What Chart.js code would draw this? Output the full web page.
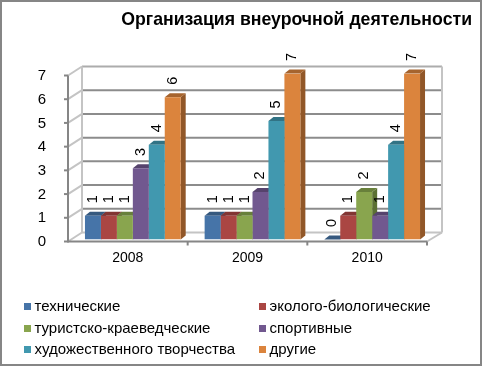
<!DOCTYPE html>
<html lang="ru">
<head>
<meta charset="utf-8">
<title>Организация внеурочной деятельности</title>
<style>
    html, body { margin: 0; padding: 0; background: #fff; }
    canvas { display: block; }
</style>
<script src="https://cdn.jsdelivr.net/npm/chart.js@4"></script>
</head>
<body>
<canvas id="chart" width="482" height="366"></canvas>
<script>
const chartTitle = "Организация внеурочной деятельности";
const years = ["2008", "2009", "2010"];
const yTicks = [0, 1, 2, 3, 4, 5, 6, 7];

const technical = [1, 1, 0];
const ecoBio = [1, 1, 1];
const tourism = [1, 1, 2];
const sports = [3, 2, 1];
const arts = [4, 5, 4];
const other = [6, 7, 7];

const seriesNames = ["технические", "эколого-биологические", "туристско-краеведческие",
    "спортивные", "художественного творчества", "другие"];
const seriesValues = [technical, ecoBio, tourism, sports, arts, other];
const frontColors = ["#4674a8", "#aa4643", "#89a54e", "#71588f", "#4198af", "#db843d"];
const topColors = ["#36597f", "#823533", "#68803b", "#56436d", "#317385", "#a6642e"];
const sideColors = ["#2f4d6f", "#722e2c", "#5b7033", "#4b3a5f", "#2b6474", "#915728"];

const fontFamily = '"Liberation Sans", Arial, sans-serif';
const DEPTH_X = 5;
const DEPTH_Y = 4;

function line(ctx, x1, y1, x2, y2, color, width) {
    ctx.strokeStyle = color;
    ctx.lineWidth = width;
    ctx.beginPath();
    ctx.moveTo(x1, y1);
    ctx.lineTo(x2, y2);
    ctx.stroke();
}

function face(ctx, points, color) {
    ctx.fillStyle = color;
    ctx.beginPath();
    points.forEach((p, i) => i ? ctx.lineTo(p[0], p[1]) : ctx.moveTo(p[0], p[1]));
    ctx.closePath();
    ctx.fill();
}

// walls, floor and axes of the 3d box, placed from the scales
const wallsPlugin = {
    id: "walls",
    beforeDatasetsDraw(chart) {
        const { ctx, chartArea, scales } = chart;
        const frontLeft = chartArea.left - 5;
        const frontRight = chartArea.right - 5;
        const backLeft = frontLeft + 14;
        const backRight = frontRight + 15;
        const frontY = v => scales.y.getPixelForValue(v) + 2;
        const backY = v => scales.y.getPixelForValue(v) - 7;

        ctx.save();
        yTicks.forEach(v => {
            if (v > 0) {
                line(ctx, backLeft, backY(v), backRight, backY(v), v === 7 ? "#acacac" : "#8c8c8c", 2);
            }
            line(ctx, frontLeft, frontY(v), backLeft, backY(v), "#c4c4c4", 2);
            line(ctx, frontLeft - 4, frontY(v), frontLeft, frontY(v), "#868686", 2);
        });
        line(ctx, backLeft, backY(0), backRight, backY(0), "#c4c4c4", 2);
        line(ctx, backLeft, backY(7), backLeft, backY(0), "#c4c4c4", 2);
        line(ctx, backRight, backY(7), backRight, backY(0), "#c4c4c4", 2);
        line(ctx, frontRight, frontY(0), backRight, backY(0), "#c4c4c4", 2);
        line(ctx, frontLeft, frontY(7), frontLeft, frontY(0) + 1, "#868686", 2);
        line(ctx, frontLeft, frontY(0), frontRight, frontY(0), "#868686", 2);
        years.forEach((year, i) => {
            const x = frontLeft + (frontRight - frontLeft) * (i + 1) / years.length;
            line(ctx, x, frontY(0), x, frontY(0) + 4, "#868686", 2);
        });
        ctx.restore();
    }
};

// top and side faces behind the bars the library draws
const depthPlugin = {
    id: "depth",
    beforeDatasetsDraw(chart) {
        const { ctx } = chart;
        ctx.save();
        chart.data.datasets.forEach((dataset, d) => {
            chart.getDatasetMeta(d).data.forEach(bar => {
                const left = bar.x - bar.width / 2;
                const right = bar.x + bar.width / 2;
                face(ctx, [[right, bar.y], [right + DEPTH_X, bar.y - DEPTH_Y],
                    [right + DEPTH_X, bar.base - DEPTH_Y], [right, bar.base]], sideColors[d]);
                face(ctx, [[left, bar.y], [left + DEPTH_X, bar.y - DEPTH_Y],
                    [right + DEPTH_X, bar.y - DEPTH_Y], [right, bar.y]], topColors[d]);
            });
        });
        ctx.restore();
    }
};

// rotated value labels, title, legend and frame
const textPlugin = {
    id: "texts",
    afterDraw(chart) {
        const { ctx } = chart;
        ctx.save();
        ctx.fillStyle = "#000";
        ctx.textBaseline = "middle";

        ctx.font = `14.5px ${fontFamily}`;
        ctx.textAlign = "center";
        chart.data.datasets.forEach((dataset, d) => {
            chart.getDatasetMeta(d).data.forEach((bar, i) => {
                ctx.save();
                ctx.translate(bar.x, bar.y - 16.5);
                ctx.rotate(-Math.PI / 2);
                ctx.fillText(String(dataset.data[i]), 0, 0);
                ctx.restore();
            });
        });

        ctx.font = `bold 17.7px ${fontFamily}`;
        ctx.textAlign = "right";
        ctx.fillText(chartTitle, 472, 20);

        const legendX = [24, 259];
        const legendY = [307, 329, 350];
        ctx.font = `15px ${fontFamily}`;
        ctx.textAlign = "left";
        seriesNames.forEach((name, i) => {
            const x = legendX[i % 2];
            const y = legendY[Math.floor(i / 2)];
            ctx.fillStyle = frontColors[i];
            ctx.fillRect(x, y - 4, 7, 7);
            ctx.fillStyle = "#000";
            ctx.fillText(name, x + 10.5, y);
        });

        ctx.strokeStyle = "#868686";
        ctx.lineWidth = 2;
        ctx.strokeRect(1, 1, chart.width - 2, chart.height - 2);
        ctx.restore();
    }
};

new Chart(document.getElementById("chart"), {
    type: "bar",
    data: {
        labels: years,
        datasets: seriesNames.map((name, i) => ({
            label: name,
            data: seriesValues[i],
            backgroundColor: frontColors[i],
            borderWidth: 0
        }))
    },
    options: {
        responsive: false,
        animation: false,
        layout: { padding: { top: 73.5, right: 50, bottom: 0, left: 0 } },
        datasets: { bar: { categoryPercentage: 0.8, barPercentage: 1 } },
        scales: {
            x: {
                grid: { display: false },
                border: { display: false },
                afterFit: scale => { scale.height = 126.5; },
                ticks: {
                    color: "#000",
                    padding: 2,
                    labelOffset: -5,
                    maxRotation: 0,
                    font: { family: fontFamily, size: 14 }
                }
            },
            y: {
                min: 0,
                max: 7,
                grid: { display: false },
                border: { display: false },
                afterFit: scale => { scale.width = 73; },
                ticks: {
                    stepSize: 1,
                    color: "#000",
                    padding: 19,
                    labelOffset: 2.5,
                    font: { family: fontFamily, size: 15 }
                }
            }
        },
        plugins: {
            legend: { display: false },
            title: { display: false },
            tooltip: { enabled: false }
        }
    },
    plugins: [wallsPlugin, depthPlugin, textPlugin]
});
</script>
</body>
</html>
